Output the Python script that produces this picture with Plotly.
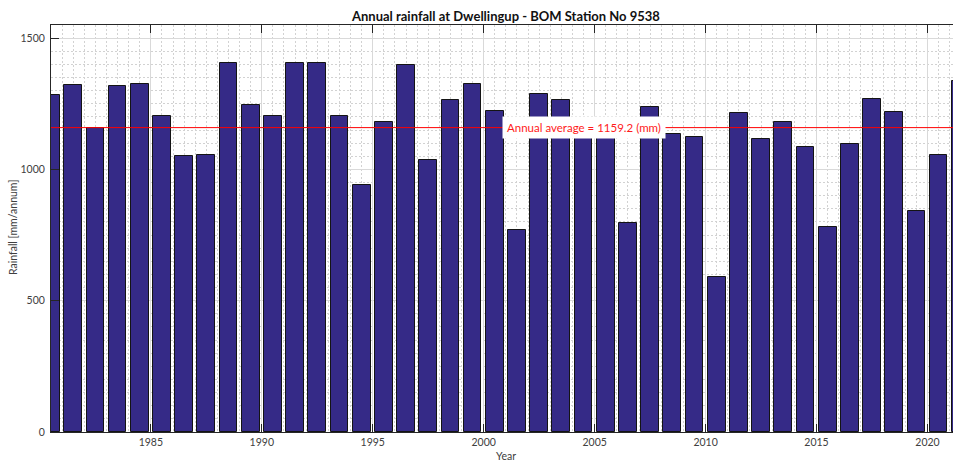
import plotly.graph_objects as go

# Annual rainfall totals at Dwellingup (BOM station 9538), mm per year
years = list(range(1980, 2022))
rainfall_mm = [
    1284, 1320, 1158, 1316, 1325, 1202, 1052, 1054, 1407, 1245,
    1202, 1407, 1407, 1205, 942, 1179, 1397, 1036, 1265, 1325,
    1222, 770, 1287, 1265, 1172, 1185, 795, 1236, 1135, 1122,
    590, 1215, 1114, 1179, 1085, 781, 1098, 1270, 1218, 842,
    1055, 1336,
]
annual_average = 1159.2

title_text = "Annual rainfall at Dwellingup - BOM Station No 9538"
x_label = "Year"
y_label = "Rainfall [mm/annum]"

font_family = "Lato, 'Open Sans', sans-serif"
axis_dark = "#262626"
label_grey = "#404040"

W, H = 953, 462
ML, MR, MT, MB = 51, 0, 25, 30
pw, ph = W - ML - MR, H - MT - MB


def px_to_paper(px, py):
    """Pixel position in the page -> paper fraction of the plot area."""
    return (px - ML) / pw, 1 - (py - MT) / ph


fig = go.Figure()

# Each year's bar fills the span from that year to the next
fig.add_trace(go.Bar(
    x=years,
    y=rainfall_mm,
    width=0.8,
    offset=0.1,
    marker=dict(color="rgb(53,42,135)", line=dict(color="#141414", width=1)),
    hoverinfo="x+y",
))

# Long-term average line
fig.add_shape(
    type="line", xref="paper", x0=0, x1=1, yref="y",
    y0=annual_average, y1=annual_average,
    line=dict(color="#ff0000", width=1), layer="above",
)

fig.add_annotation(
    x=2004.5, y=annual_average, xref="x", yref="y",
    xanchor="center", yanchor="middle",
    text=f"Annual average = {annual_average} (mm)",
    showarrow=False, bgcolor="white", borderpad=4,
    font=dict(family=font_family, size=11.5, color="#ff1a1a"),
)

# Title and axis captions
for text, (px, py), size, color, angle in [
    (f"<b>{title_text}</b>", (506, 16), 13, "#111111", 0),
    (x_label, (506, 456), 10.5, label_grey, 0),
    (y_label, (13, 228), 10.5, label_grey, -90),
]:
    ax, ay = px_to_paper(px, py)
    fig.add_annotation(
        x=ax, y=ay, xref="paper", yref="paper", text=text, showarrow=False,
        xanchor="center", yanchor="middle", textangle=angle,
        font=dict(family=font_family, size=size, color=color),
    )

fig.update_layout(
    width=W, height=H,
    margin=dict(l=ML, r=MR, t=MT, b=MB, pad=0),
    plot_bgcolor="white", paper_bgcolor="white",
    showlegend=False,
    font=dict(family=font_family, size=10.5, color=label_grey),
    xaxis=dict(
        range=[1980.5, 2021.15], tick0=1985, dtick=5,
        ticks="inside", ticklen=8, tickwidth=1, tickcolor=axis_dark,
        showline=True, linecolor=axis_dark, linewidth=1, mirror="allticks",
        showgrid=True, gridcolor="#d9d9d9", gridwidth=1, zeroline=False,
        minor=dict(dtick=0.5, showgrid=True, gridcolor="#d2d2d2",
                   griddash="2px,2px", gridwidth=1, ticks=""),
        tickfont=dict(family=font_family, size=10.5, color=label_grey),
    ),
    yaxis=dict(
        range=[0, 1550], tick0=0, dtick=500,
        ticks="inside", ticklen=8, tickwidth=1, tickcolor=axis_dark,
        showline=True, linecolor=axis_dark, linewidth=1, mirror=False,
        showgrid=True, gridcolor="#d9d9d9", gridwidth=1, zeroline=False,
        minor=dict(dtick=50, showgrid=True, gridcolor="#d2d2d2",
                   griddash="2px,2px", gridwidth=1, ticks=""),
        tickfont=dict(family=font_family, size=10.5, color=label_grey),
        ticklabelstandoff=3,
    ),
    bargap=0,
)

fig.write_html("out.html")
